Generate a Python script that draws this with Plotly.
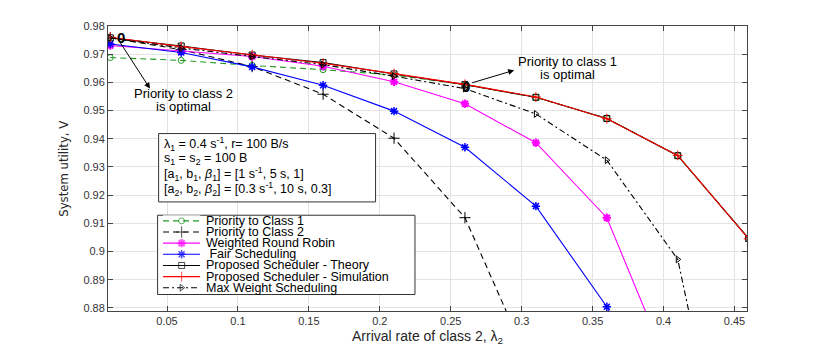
import plotly.graph_objects as go

# =============================================================================
# Data
# =============================================================================
lam2 = [0.01, 0.06, 0.11, 0.16, 0.21, 0.26, 0.31, 0.36, 0.41, 0.46]

prio1 = [0.9688, 0.9678, 0.9660, 0.9645, 0.9626, 0.9592, 0.9547, 0.9472, 0.9340, 0.9046]
prio2 = [0.9758, 0.9716, 0.9656, 0.9558, 0.9402, 0.9120, 0.8550]
wrr = [0.9731, 0.9711, 0.9692, 0.9657, 0.9602, 0.9524, 0.9386, 0.9120, 0.8510]
fair = [0.9736, 0.9706, 0.9655, 0.9590, 0.9498, 0.9370, 0.9161, 0.8804, 0.8300]
theory = [0.9758, 0.9729, 0.9697, 0.9670, 0.9630, 0.9592, 0.9547, 0.9472, 0.9340, 0.9046]
sim = [0.9760, 0.9727, 0.9698, 0.9668, 0.9631, 0.9593, 0.9548, 0.9471, 0.9341, 0.9045]
maxw = [0.9758, 0.9722, 0.9692, 0.9663, 0.9622, 0.9578, 0.9488, 0.9324, 0.8972, 0.7790]

names = ["Priority to Class 1", "Priority to Class 2", "Weighted Round Robin",
         " Fair Scheduling", "Proposed Scheduler - Theory",
         "Proposed Scheduler - Simulation", "Max Weight Scheduling"]

xtick_vals = [0.05, 0.1, 0.15, 0.2, 0.25, 0.3, 0.35, 0.4, 0.45]
xtick_text = ["0.05", "0.1", "0.15", "0.2", "0.25", "0.3", "0.35", "0.4", "0.45"]
ytick_vals = [0.88, 0.89, 0.9, 0.91, 0.92, 0.93, 0.94, 0.95, 0.96, 0.97, 0.98]
ytick_text = ["0.88", "0.89", "0.9", "0.91", "0.92", "0.93", "0.94", "0.95", "0.96", "0.97", "0.98"]

info_lines = [
    "λ<sub>1</sub> = 0.4 s<sup>-1</sup>, r= 100 B/s",
    "s<sub>1</sub> = s<sub>2</sub> = 100 B",
    "[a<sub>1</sub>, b<sub>1</sub>, <i>β</i><sub>1</sub>] = [1 s<sup>-1</sup>, 5 s, 1]",
    "[a<sub>2</sub>, b<sub>2</sub>, <i>β</i><sub>2</sub>] = [0.3 s<sup>-1</sup>, 10 s, 0.3]",
]

FONT = "Liberation Sans, Arial, sans-serif"

# styles: (color, dash, symbol, size, marker line width)
styles = [
    ("#1f9a1f", "6px,4px", "circle-open", 6, 1),
    ("black", "6px,4px", "cross-thin-open", 8, 1),
    ("#ff00ff", "solid", "asterisk-open", 7, 2),
    ("#0000ff", "solid", "asterisk-open", 7, 1.5),
    ("black", "solid", "square-open", 6, 1),
    ("#ff0000", "solid", "cross-thin-open", 7, 1),
    ("black", "6px,3px,2px,3px", "triangle-right-open", 6, 1),
]
series = [(lam2, prio1), (lam2[:len(prio2)], prio2), (lam2[:len(wrr)], wrr),
          (lam2[:len(fair)], fair), (lam2, theory), (lam2, sim), (lam2, maxw)]

fig = go.Figure()

for (xs, ys), (col, dash, sym, sz, mlw), nm in zip(series, styles, names):
    fig.add_trace(go.Scatter(
        x=xs, y=ys, mode="lines+markers", name=nm, showlegend=False,
        line=dict(color=col, width=1.1, dash=dash),
        marker=dict(symbol=sym, size=sz, color=col, line=dict(color=col, width=mlw)),
        xaxis="x", yaxis="y"))

# hand-made legend samples on a small helper subplot (native legend rows are too tall)
for i, ((col, dash, sym, sz, mlw), nm) in enumerate(zip(styles, names)):
    fig.add_trace(go.Scatter(
        x=[0, 0.5, 1], y=[i, i, i], mode="lines+markers", showlegend=False,
        line=dict(color=col, width=1.1, dash=dash),
        marker=dict(symbol=sym, size=[0, sz, 0], color=col, line=dict(color=col, width=mlw)),
        xaxis="x2", yaxis="y2", hoverinfo="skip"))
    fig.add_annotation(x=0.1507, y=i, xref="paper", yref="y2", text=nm, showarrow=False,
                       xanchor="left", yanchor="middle",
                       font=dict(family=FONT, size=12.5, color="black"))

# boxes (between grid and traces)
fig.add_shape(type="rect", xref="x", yref="y", x0=0.04407, x1=0.1970, y0=0.91759, y1=0.94184,
              layer="between", fillcolor="white", line=dict(color="#333333", width=1))
fig.add_shape(type="rect", xref="x", yref="y", x0=0.04336, x1=0.22477, y0=0.88475, y1=0.91287,
              layer="between", fillcolor="white", line=dict(color="#333333", width=1))

for j, t in enumerate(info_lines):
    fig.add_annotation(x=0.0467, y=0.9383 - j * 0.00532, xref="x", yref="y", text=t,
                       showarrow=False, xanchor="left", yanchor="middle",
                       font=dict(family=FONT, size=12.5, color="black"))

# optimal-point markers and arrows
fig.add_annotation(x=0.0174, y=0.9758, xref="x", yref="y", text="<b>0</b>", showarrow=False,
                   font=dict(family=FONT, size=15, color="black"))
fig.add_annotation(x=0.2609, y=0.9585, xref="x", yref="y", text="<b>0</b>", showarrow=False,
                   font=dict(family=FONT, size=15, color="black"))
fig.add_annotation(x=0.038, y=0.9578, ax=0.0165, ay=0.9745, xref="x", yref="y",
                   axref="x", ayref="y", text="", showarrow=True, arrowhead=2,
                   arrowsize=1.2, arrowwidth=1, arrowcolor="black")
fig.add_annotation(x=0.2947, y=0.9643, ax=0.264, ay=0.9597, xref="x", yref="y",
                   axref="x", ayref="y", text="", showarrow=True, arrowhead=2,
                   arrowsize=1.2, arrowwidth=1, arrowcolor="black")
for t, xx, yy in [("Priority to class 2", 0.0613, 0.9561), ("is optimal", 0.0613, 0.9515),
                  ("Priority to class 1", 0.3326, 0.9673), ("is optimal", 0.3326, 0.9627)]:
    fig.add_annotation(x=xx, y=yy, xref="x", yref="y", text=t, showarrow=False,
                       font=dict(family=FONT, size=13, color="black"))

# axis titles
fig.add_annotation(x=0.5, y=-0.052, xref="paper", yref="paper", text="Arrival rate of class 2, λ<sub>2</sub>",
                   showarrow=False, xanchor="center", yanchor="top",
                   font=dict(family=FONT, size=14, color="#262626"))
fig.add_annotation(x=-0.07, y=0.5, xref="paper", yref="paper", text="System utility, V",
                   showarrow=False, textangle=-90, xanchor="center", yanchor="middle",
                   font=dict(family="Liberation Sans Narrow, DejaVu Sans Condensed, Arial Narrow, sans-serif",
                             size=13, color="#262626"))

axis_common = dict(showline=True, linecolor="#444444", linewidth=1, mirror="ticks",
                   ticks="inside", ticklen=5, tickcolor="#444444",
                   showgrid=True, gridcolor="#e3e3e3", gridwidth=1, zeroline=False,
                   tickfont=dict(family=FONT, size=11, color="#333333"))

# page body has an 8px margin, so the figure is 8px smaller and left/top margins shifted
fig.update_layout(
    width=822, height=338,
    margin=dict(l=100, r=83, t=18, b=35),
    paper_bgcolor="white", plot_bgcolor="white",
    showlegend=False,
    xaxis=dict(range=[0.0084, 0.4588], tickvals=xtick_vals, ticktext=xtick_text, **axis_common),
    yaxis=dict(range=[0.8789, 0.98], tickvals=ytick_vals, ticktext=ytick_text, **axis_common),
    xaxis2=dict(domain=[0.0861, 0.1444], range=[0, 1], visible=False, anchor="y2"),
    yaxis2=dict(domain=[0.0621, 0.3358], range=[6.5, -0.5], visible=False, anchor="x2"),
)

fig.write_html("out.html")
